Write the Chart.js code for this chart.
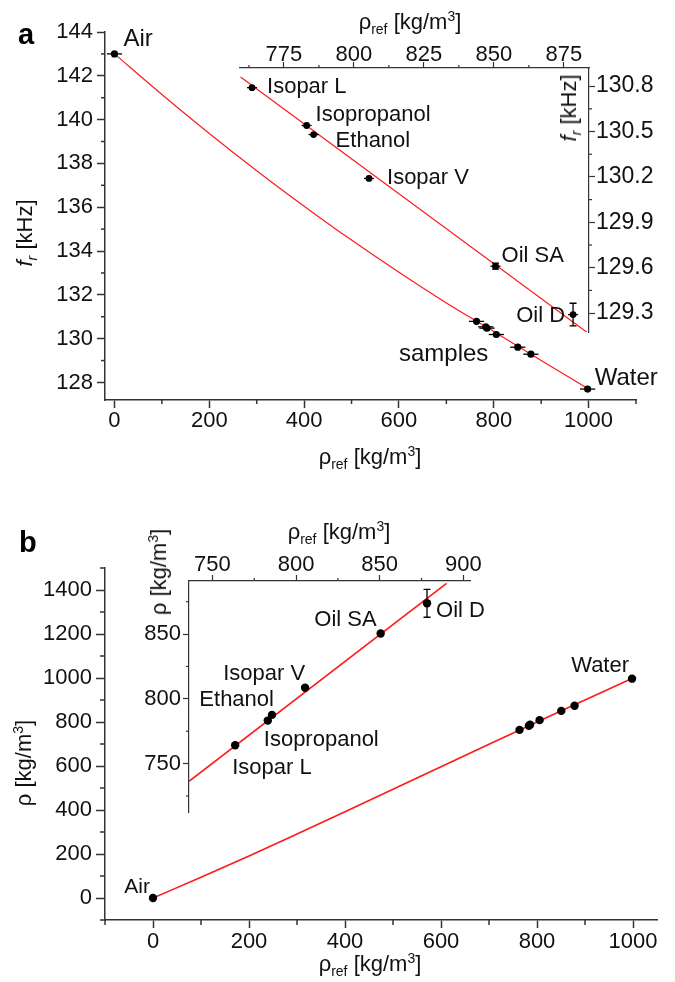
<!DOCTYPE html>
<html lang="en">
<head>
<meta charset="UTF-8">
<title>Resonance frequency and density vs reference density</title>
<script src="https://cdn.jsdelivr.net/npm/chart.js"></script>
<style>
  body { margin: 0; background: #fff; font-family: "Liberation Sans", Arial, sans-serif; }
  #fig { position: relative; width: 675px; height: 982px; overflow: hidden; }
  canvas { position: absolute; }
  .t { position: absolute; font-size: 22px; color: #111; white-space: nowrap; line-height: 1; transform: translate(-50%, -50%); }
  .r { transform: translate(-50%, -50%) rotate(-90deg); }
  .t sub, .t sup { font-size: 14px; line-height: 0; }
  .panel { position: absolute; font-weight: bold; font-size: 29px; line-height: 1; color: #000; }
</style>
</head>
<body>
<div id="fig">
  <canvas id="mainA"></canvas>
  <canvas id="insetA"></canvas>
  <canvas id="mainB"></canvas>
  <canvas id="insetB"></canvas>

  <div class="panel" style="left:18px; top:20px;">a</div>
  <div class="panel" style="left:19px; top:528px;">b</div>

  <!-- axis titles -->
  <div class="t" style="left:370px; top:457px;">&rho;<sub>ref</sub> [kg/m<sup>3</sup>]</div>
  <div class="t" style="left:410px; top:22px;">&rho;<sub>ref</sub> [kg/m<sup>3</sup>]</div>
  <div class="t r" style="left:569px; top:108px;"><i>f</i><sub><i>r</i></sub> [kHz]</div>
  <div class="t r" style="left:25px; top:233px;"><i>f</i><sub><i>r</i></sub> [kHz]</div>
  <div class="t" style="left:370px; top:964px;">&rho;<sub>ref</sub> [kg/m<sup>3</sup>]</div>
  <div class="t" style="left:339px; top:532px;">&rho;<sub>ref</sub> [kg/m<sup>3</sup>]</div>
  <div class="t r" style="left:159px; top:572px;">&rho; [kg/m<sup>3</sup>]</div>
  <div class="t r" style="left:24px; top:763px;">&rho; [kg/m<sup>3</sup>]</div>
</div>

<script>
// ---- data ----
const sampleNames = ["Isopar L", "Isopropanol", "Ethanol", "Isopar V", "Oil SA", "Oil D"];
const sampleRef = [763.6, 783.1, 785.6, 805.4, 850.6, 878.3];

// panel a: resonance frequency [kHz]
const refAirWater = [0, 998];
const frAirWater = [143.0, 127.7];
const sampleFr = [130.79, 130.54, 130.48, 130.19, 129.61, 129.29];
const sampleFrErr = [0, 0, 0, 0, 0.02, 0.075];
const mainRefErr = [16, 16];
const sampleRefErrMain = [16, 16, 16, 16, 16, 16];
const sampleRefErrInset = [1.8, 1.8, 1.8, 1.8, 1.8, 1.8];
const fitRefA = [0, 100, 200, 300, 400, 500, 600, 700, 800, 900, 1000];
const fitFrA = [143.0, 141.15, 139.37, 137.67, 136.05, 134.5, 133.03, 131.63, 130.33, 129.0, 127.7];
const insetFitRefA = [759.5, 883.5];
const insetFitFrA = [130.86, 129.17];

// panel b: measured density [kg/m3]
const rhoAirWater = [0, 997];
const sampleRho = [764.2, 783.2, 787.6, 808.5, 850.5, 873.8];
const sampleRhoErr = [0, 0, 0, 0, 0, 10.8];
const fitRefB = [0, 100, 200, 300, 400, 500, 600, 700, 800, 900, 1000];
const fitRhoB = [0, 94, 191, 291, 392, 494, 597, 699, 800, 900, 1000];
const insetFitRefB = [736, 890];
const insetFitRhoB = [736.3, 889.2];

// tick labels
const ticksAx = [0, 200, 400, 600, 800, 1000], minorAx = [100, 300, 500, 700, 900, 1100];
const ticksAy = [128, 130, 132, 134, 136, 138, 140, 142, 144], minorAy = [129, 131, 133, 135, 137, 139, 141, 143];
const ticksIAx = [775, 800, 825, 850, 875], minorIAx = [762.5, 787.5, 812.5, 837.5, 862.5];
const ticksIAy = [129.3, 129.6, 129.9, 130.2, 130.5, 130.8], minorIAy = [129.45, 129.75, 130.05, 130.35, 130.65];
const ticksBx = [0, 200, 400, 600, 800, 1000], minorBx = [-100, 100, 300, 500, 700, 900];
const ticksBy = [0, 200, 400, 600, 800, 1000, 1200, 1400], minorBy = [-100, 100, 300, 500, 700, 900, 1100, 1300, 1500];
const ticksIBx = [750, 800, 850, 900], minorIBx = [775, 825, 875];
const ticksIBy = [750, 800, 850], minorIBy = [725, 775, 825, 875];

// ---- helpers ----
const FONT = "'Liberation Sans', Arial, sans-serif";
const AX = '#333';
Chart.defaults.font.family = FONT;

const pts = (xs, ys) => xs.map((v, i) => ({ x: v, y: ys[i] }));

function makeScale(o) {
  return {
    type: 'linear', position: o.pos, min: o.min, max: o.max, bounds: 'data',
    afterBuildTicks: s => { s.ticks = o.major.map(v => ({ value: v })); },
    afterFit: s => { if (s.isHorizontal()) s.height = o.size; else s.width = o.size; },
    grid: { display: true, drawOnChartArea: false, drawTicks: true, tickLength: o.tick, tickWidth: o.lw, tickColor: AX },
    border: { display: true, color: AX, width: o.lw },
    ticks: { autoSkip: false, maxRotation: 0, padding: o.pad, color: '#111',
             font: { size: o.font, lineHeight: 1 }, callback: v => v.toFixed(o.dec) }
  };
}

function minorPlugin(map, len, lw) {
  return {
    id: 'minor',
    afterDraw(chart) {
      const ctx = chart.ctx;
      ctx.save(); ctx.strokeStyle = AX; ctx.lineWidth = lw;
      Object.keys(map).forEach(id => {
        const s = chart.scales[id];
        map[id].forEach(v => {
          const p = s.getPixelForValue(v);
          ctx.beginPath();
          if (s.isHorizontal()) {
            const y0 = s.position === 'top' ? s.bottom : s.top;
            ctx.moveTo(p, y0); ctx.lineTo(p, y0 + (s.position === 'top' ? -len : len));
          } else {
            const x0 = s.position === 'left' ? s.right : s.left;
            ctx.moveTo(x0, p); ctx.lineTo(x0 + (s.position === 'left' ? -len : len), p);
          }
          ctx.stroke();
        });
      });
      ctx.restore();
    }
  };
}

function errPlugin(items) {
  return {
    id: 'err',
    afterDatasetsDraw(chart) {
      const { ctx, scales: { x, y } } = chart;
      ctx.save(); ctx.strokeStyle = '#000'; ctx.lineWidth = 1.3;
      items.forEach(it => {
        chart.data.datasets[it.ds].data.forEach((p, i) => {
          const px = x.getPixelForValue(p.x), py = y.getPixelForValue(p.y);
          if (it.xErr && it.xErr[i]) {
            ctx.beginPath();
            ctx.moveTo(x.getPixelForValue(p.x - it.xErr[i]), py);
            ctx.lineTo(x.getPixelForValue(p.x + it.xErr[i]), py);
            ctx.stroke();
          }
          if (it.yErr && it.yErr[i]) {
            const a = y.getPixelForValue(p.y - it.yErr[i]), b = y.getPixelForValue(p.y + it.yErr[i]);
            ctx.beginPath();
            ctx.moveTo(px, a); ctx.lineTo(px, b);
            ctx.moveTo(px - 3.5, a); ctx.lineTo(px + 3.5, a);
            ctx.moveTo(px - 3.5, b); ctx.lineTo(px + 3.5, b);
            ctx.stroke();
          }
        });
      });
      ctx.restore();
    }
  };
}

// labels: text at data point + pixel offset (baseline)
function labelPlugin(items) {
  return {
    id: 'lbl',
    afterDatasetsDraw(chart) {
      const { ctx, scales: { x, y } } = chart;
      ctx.save(); ctx.fillStyle = '#111'; ctx.textBaseline = 'alphabetic';
      items.forEach(it => {
        ctx.font = it.size + 'px ' + FONT;
        ctx.textAlign = it.align || 'left';
        ctx.fillText(it.text, x.getPixelForValue(it.x) + it.dx, y.getPixelForValue(it.y) + it.dy);
      });
      ctx.restore();
    }
  };
}

function makeChart(id, box, area, xs, ys, datasets, plugins) {
  const c = document.getElementById(id);
  c.width = box.w; c.height = box.h;
  c.style.left = box.x + 'px'; c.style.top = box.y + 'px';
  const R = box.x + box.w, B = box.y + box.h;
  xs.size = xs.pos === 'bottom' ? B - area.b : area.t - box.y;
  ys.size = ys.pos === 'left' ? area.l - box.x : R - area.r;
  const padding = {
    left: ys.pos === 'left' ? 0 : area.l - box.x,
    right: ys.pos === 'right' ? 0 : R - area.r,
    top: xs.pos === 'top' ? 0 : area.t - box.y,
    bottom: xs.pos === 'bottom' ? 0 : B - area.b
  };
  return new Chart(c, {
    type: 'scatter',
    data: { datasets },
    options: {
      responsive: false, animation: false, devicePixelRatio: 1,
      layout: { padding },
      plugins: { legend: { display: false }, tooltip: { enabled: false } },
      scales: { x: makeScale(xs), y: makeScale(ys) }
    },
    plugins
  });
}

const dots = (data, r) => ({ data, pointRadius: r, pointBackgroundColor: '#000', pointBorderWidth: 0, showLine: false });
const fit = (data, w) => ({ data, showLine: true, borderColor: '#ff1a1a', borderWidth: w, pointRadius: 0, cubicInterpolationMode: 'monotone' });

// ---- panel a, main ----
makeChart('mainA', { x: 0, y: 0, w: 675, h: 480 }, { l: 105, t: 32, r: 636, b: 400 },
  { pos: 'bottom', min: -20, max: 1100, major: ticksAx, dec: 0, tick: 8, pad: 1.5, font: 22, lw: 1.5 },
  { pos: 'left', min: 127.2, max: 144, major: ticksAy, dec: 0, tick: 8, pad: 4, font: 22, lw: 1.5 },
  [dots(pts(refAirWater, frAirWater), 3.6), dots(pts(sampleRef, sampleFr), 3.6), fit(pts(fitRefA, fitFrA), 1.2)],
  [minorPlugin({ x: minorAx, y: minorAy }, 4, 1.5),
   errPlugin([{ ds: 0, xErr: mainRefErr }, { ds: 1, xErr: sampleRefErrMain }]),
   labelPlugin([
     { text: 'Air', x: refAirWater[0], y: frAirWater[0], dx: 9, dy: -8, size: 24 },
     { text: 'Water', x: refAirWater[1], y: frAirWater[1], dx: 7, dy: -4, size: 24 },
     { text: 'samples', x: 600, y: 129.0, dx: 0, dy: 0, size: 24 }
   ])]);

// ---- panel a, inset ----
const offIA = [[15, 5, 'left'], [9, -4, 'left'], [22, 12, 'left'], [18, 6, 'left'], [6, -4, 'left'], [-8, 7, 'right']];
makeChart('insetA', { x: 200, y: 0, w: 475, h: 360 }, { l: 240, t: 68, r: 589, b: 332 },
  { pos: 'top', min: 759.3, max: 884, major: ticksIAx, dec: 0, tick: 6, pad: -4, font: 22, lw: 1.2 },
  { pos: 'right', min: 129.175, max: 130.92, major: ticksIAy, dec: 1, tick: 6, pad: 1, font: 23, lw: 1.2 },
  [dots(pts(sampleRef, sampleFr), 3.4), fit(pts(insetFitRefA, insetFitFrA), 1.2)],
  [minorPlugin({ x: minorIAx, y: minorIAy }, 3, 1.2),
   errPlugin([{ ds: 0, xErr: sampleRefErrInset, yErr: sampleFrErr }]),
   labelPlugin(sampleNames.map((n, i) => ({ text: n, x: sampleRef[i], y: sampleFr[i], dx: offIA[i][0], dy: offIA[i][1], align: offIA[i][2], size: 22 })))]);

// ---- panel b, main ----
makeChart('mainB', { x: 0, y: 490, w: 675, h: 492 }, { l: 105, t: 568, r: 657, b: 920 },
  { pos: 'bottom', min: -100, max: 1050, major: ticksBx, dec: 0, tick: 8, pad: 3, font: 22, lw: 1.5 },
  { pos: 'left', min: -100, max: 1500, major: ticksBy, dec: 0, tick: 9, pad: 4, font: 22, lw: 1.5 },
  [dots(pts(rhoAirWater.map((v, i) => [0, 998][i]), rhoAirWater), 4.2), dots(pts(sampleRef, sampleRho), 4.2), fit(pts(fitRefB, fitRhoB), 1.6)],
  [minorPlugin({ x: minorBx, y: minorBy }, 5, 1.5),
   labelPlugin([
     { text: 'Air', x: 0, y: rhoAirWater[0], dx: -3, dy: -5, align: 'right', size: 21 },
     { text: 'Water', x: 998, y: rhoAirWater[1], dx: -3, dy: -7, align: 'right', size: 22 }
   ])]);

// ---- panel b, inset ----
const offIB = [[-3, 29, 'left'], [-4, 25, 'left'], [2, -9, 'right'], [0, -8, 'right'], [-4, -7, 'right'], [9, 14, 'left']];
makeChart('insetB', { x: 120, y: 500, w: 400, h: 330 }, { l: 189, t: 581, r: 470, b: 812 },
  { pos: 'top', min: 736, max: 904, major: ticksIBx, dec: 0, tick: 6, pad: -1, font: 22, lw: 1.2 },
  { pos: 'left', min: 712.6, max: 891, major: ticksIBy, dec: 0, tick: 6, pad: 2, font: 22, lw: 1.2 },
  [dots(pts(sampleRef, sampleRho), 4.2), fit(pts(insetFitRefB, insetFitRhoB), 1.6)],
  [minorPlugin({ x: minorIBx, y: minorIBy }, 3, 1.2),
   errPlugin([{ ds: 0, yErr: sampleRhoErr }]),
   labelPlugin(sampleNames.map((n, i) => ({ text: n, x: sampleRef[i], y: sampleRho[i], dx: offIB[i][0], dy: offIB[i][1], align: offIB[i][2], size: 22 })))]);
</script>
</body>
</html>
